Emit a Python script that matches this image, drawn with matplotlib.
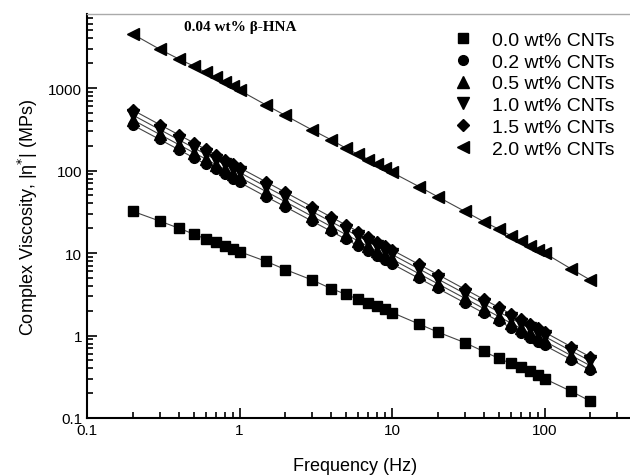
import matplotlib
matplotlib.use('Agg')
import matplotlib.pyplot as plt
from matplotlib.ticker import LogLocator, FixedLocator, FuncFormatter, NullFormatter

# frequency points (Hz), same for every sample
freq = [0.2, 0.3, 0.4, 0.5, 0.6, 0.7, 0.8, 0.9, 1, 1.5, 2, 3, 4, 5, 6, 7, 8, 9, 10,
        15, 20, 30, 40, 50, 60, 70, 80, 90, 100, 150, 200]

# complex viscosity, one list per CNT loading
eta_00 = [32, 24.4, 20, 17, 14.8, 13.5, 12.0, 11.2, 10.4, 7.9, 6.3, 4.7, 3.7, 3.15, 2.75,
          2.47, 2.25, 2.08, 1.9, 1.38, 1.1, 0.82, 0.64, 0.53, 0.46, 0.41, 0.37, 0.33, 0.30,
          0.21, 0.16]
eta_02 = [355, 238, 179, 143, 120, 103, 90, 80, 72, 48, 36.3, 24.3, 18.3, 14.7, 12.2,
          10.5, 9.2, 8.2, 7.4, 4.94, 3.72, 2.49, 1.87, 1.50, 1.25, 1.08, 0.94, 0.84, 0.76,
          0.51, 0.38]
eta_05 = [410, 274, 206, 165, 138, 118, 103.5, 92, 83, 55.4, 41.7, 27.8, 20.9, 16.7, 14.0,
          12.0, 10.5, 9.34, 8.42, 5.62, 4.23, 2.83, 2.12, 1.70, 1.42, 1.22, 1.065, 0.95, 0.854,
          0.57, 0.43]
eta_10 = [470, 314, 236, 189, 158, 135.4, 118.5, 105.5, 95, 63.4, 47.7, 31.8, 23.9, 19.2, 16.0,
          13.7, 12.0, 10.7, 9.61, 6.43, 4.83, 3.23, 2.42, 1.94, 1.62, 1.39, 1.22, 1.08, 0.975,
          0.65, 0.49]
eta_15 = [540, 360, 271, 217, 181, 155, 135.5, 120.5, 108.5, 72.5, 54.4, 36.3, 27.2, 21.8, 18.2,
          15.6, 13.6, 12.1, 10.9, 7.29, 5.48, 3.65, 2.74, 2.20, 1.83, 1.57, 1.37, 1.22, 1.10,
          0.73, 0.55]
eta_20 = [4500, 2950, 2250, 1850, 1550, 1350, 1200, 1060, 940, 620, 465, 310, 235, 186, 157,
          136, 120, 106, 95, 64, 48, 32, 24, 19.5, 16.3, 14, 12.2, 11, 10, 6.4, 4.7]

labels = ['0.0 wt% CNTs', '0.2 wt% CNTs', '0.5 wt% CNTs',
          '1.0 wt% CNTs', '1.5 wt% CNTs', '2.0 wt% CNTs']
series = [eta_00, eta_02, eta_05, eta_10, eta_15, eta_20]
markers = ['s', 'o', '^', 'v', 'D', '<']
msizes = [6.5, 7, 8, 8, 6, 8]

xticks = [0.1, 1, 10, 100]
yticks = [0.1, 1, 10, 100, 1000]

plt.rcParams['font.family'] = ['Liberation Sans', 'DejaVu Sans']

fig = plt.figure(figsize=(6.3, 4.77), dpi=100)
# axes runs out past the right edge like the cropped original
ax = fig.add_axes([87 / 630, 58 / 477, 610 / 630, 404 / 477])

for vals, m, ms, lab in zip(series, markers, msizes, labels):
    ax.plot(freq, vals, color='#444444', lw=0.8, zorder=2)
    ax.plot(freq, vals, ls='none', marker=m, ms=ms, color='black', label=lab, zorder=3)

ax.set_xscale('log')
ax.set_yscale('log')
ax.set_xlim(0.1, 1000)
ax.set_ylim(0.1, 7900)

fmt = FuncFormatter(lambda v, p: '%g' % v)
ax.xaxis.set_major_locator(FixedLocator(xticks))
ax.yaxis.set_major_locator(FixedLocator(yticks))
ax.xaxis.set_major_formatter(fmt)
ax.yaxis.set_major_formatter(fmt)
ax.xaxis.set_minor_locator(LogLocator(base=10, subs=range(2, 10)))
ax.yaxis.set_minor_locator(LogLocator(base=10, subs=range(2, 10)))
ax.xaxis.set_minor_formatter(NullFormatter())
ax.yaxis.set_minor_formatter(NullFormatter())
ax.tick_params(which='both', direction='in', top=False, right=False, labelsize=11, width=1.2)
ax.tick_params(which='major', length=7)
ax.tick_params(which='minor', length=4)

for s in ['left', 'bottom']:
    ax.spines[s].set_linewidth(1.5)
ax.spines['top'].set_color('#aaaaaa')
ax.spines['top'].set_linewidth(1)
ax.spines['right'].set_visible(False)

ax.set_xlabel('Frequency (Hz)', fontsize=13)
ax.set_ylabel('Complex Viscosity, |η$^{*}$| (MPs)', fontsize=13)
ax.xaxis.set_label_coords(0.44, -0.097)
ax.yaxis.set_label_coords(-0.077, 0.5)

fig.text(240 / 630, 1 - 27 / 477, '0.04 wt% β-HNA', family='Liberation Serif',
         weight='bold', fontsize=11, ha='center', va='center')

ax.legend(loc='upper left', bbox_to_anchor=(453 / 630, 1 - 32 / 477),
          bbox_transform=fig.transFigure, frameon=False, fontsize=14,
          handlelength=1, handletextpad=1.0, labelspacing=0.22,
          borderpad=0, borderaxespad=0)

plt.savefig('out.png', dpi=100)
